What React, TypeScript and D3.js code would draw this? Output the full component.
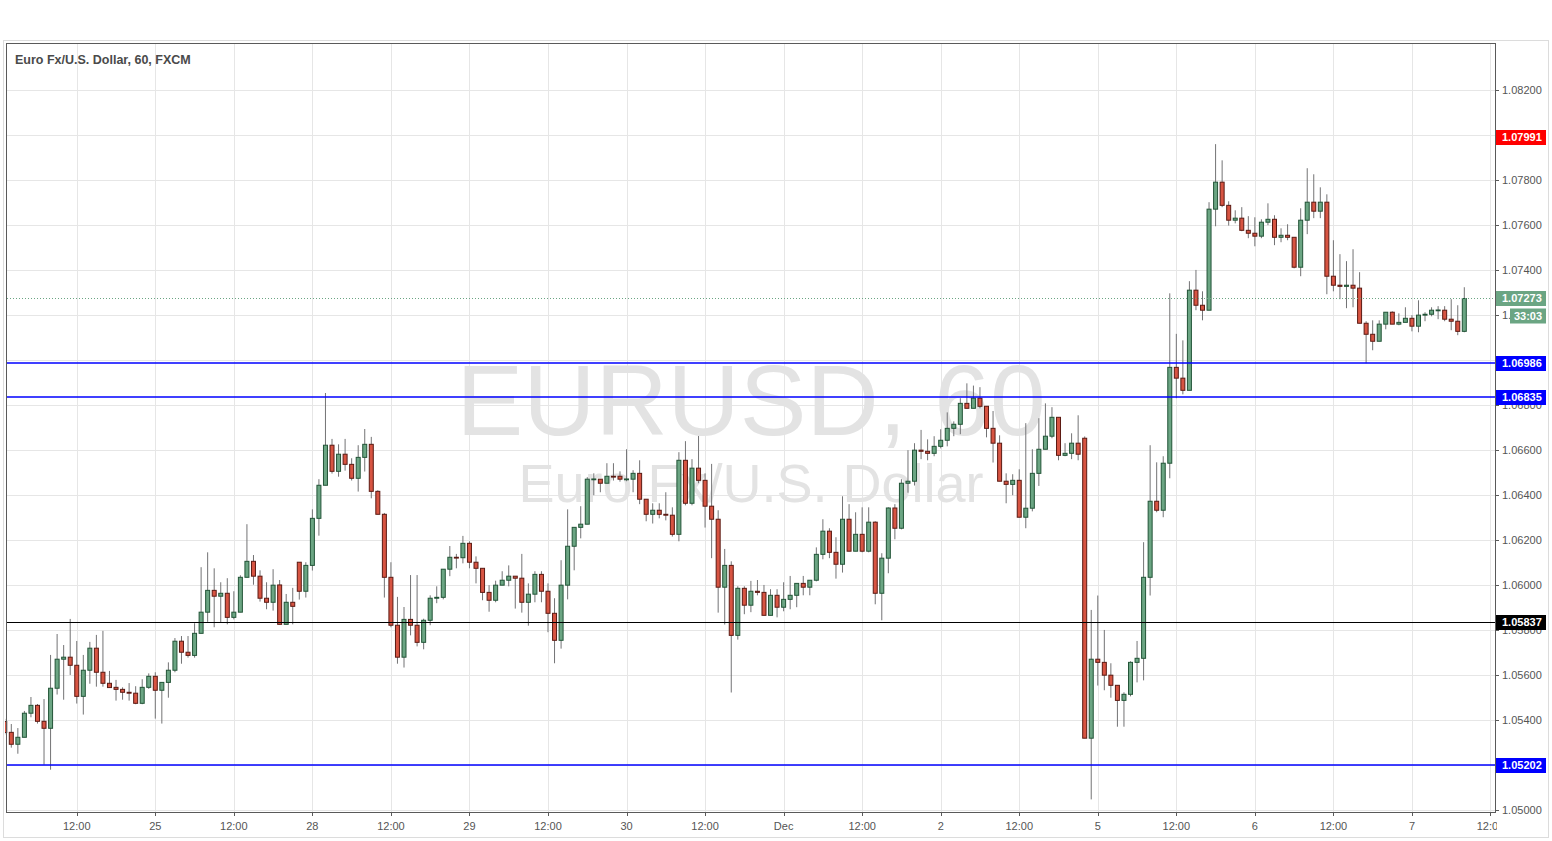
import React from 'react';
import * as d3 from 'd3';

type Bar = [number, number, number, number]; // open, high, low, close

// ---- hourly EUR/USD bars, grouped by trading day (chart time) ----
const nov24: Bar[] = [
  [1.05393,1.05405,1.05335,1.05344],[1.05345,1.05382,1.05277,1.05292],[1.05292,1.05364,1.05250,1.05323],
  [1.05323,1.05440,1.05323,1.05430],[1.05430,1.05502,1.05412,1.05465],[1.05465,1.05471,1.05384,1.05394],
  [1.05394,1.05493,1.05201,1.05363],[1.05363,1.05689,1.05179,1.05541],[1.05541,1.05782,1.05513,1.05670],
  [1.05670,1.05733,1.05490,1.05679],[1.05679,1.05849,1.05600,1.05643],[1.05643,1.05751,1.05473,1.05505],
  [1.05505,1.05689,1.05424,1.05621],[1.05621,1.05747,1.05561,1.05719],[1.05719,1.05778,1.05548,1.05612],
  [1.05612,1.05796,1.05548,1.05563],[1.05563,1.05618,1.05544,1.05544],[1.05545,1.05578,1.05486,1.05536],
  [1.05536,1.05545,1.05490,1.05523],[1.05523,1.05564,1.05486,1.05519],[1.05519,1.05550,1.05470,1.05474],
  [1.05474,1.05581,1.05470,1.05545],[1.05545,1.05607,1.05538,1.05594],
];
const nov25: Bar[] = [
  [1.05594,1.05612,1.05406,1.05532],[1.05532,1.05567,1.05384,1.05567],[1.05567,1.05656,1.05499,1.05621],
  [1.05621,1.05764,1.05612,1.05750],[1.05750,1.05773,1.05650,1.05701],[1.05701,1.05773,1.05677,1.05687],
  [1.05687,1.05830,1.05677,1.05785],[1.05785,1.06079,1.05785,1.05879],[1.05879,1.06145,1.05836,1.05976],
  [1.05976,1.06074,1.05812,1.05950],[1.05950,1.06012,1.05834,1.05963],[1.05963,1.06030,1.05825,1.05856],
  [1.05856,1.05972,1.05847,1.05879],[1.05879,1.06043,1.05879,1.06034],[1.06034,1.06270,1.06034,1.06105],
  [1.06105,1.06133,1.06001,1.06039],[1.06039,1.06065,1.05926,1.05941],[1.05941,1.06012,1.05892,1.05923],
  [1.05923,1.06070,1.05886,1.05999],[1.06000,1.06022,1.05825,1.05825],[1.05825,1.05960,1.05825,1.05923],
  [1.05923,1.05987,1.05825,1.05905],
];
const nov27: Bar[] = [
  [1.06101,1.06101,1.05935,1.05972],[1.05972,1.06101,1.05944,1.06087],
];
const nov28: Bar[] = [
  [1.06087,1.06336,1.06064,1.06296],[1.06296,1.06470,1.06219,1.06443],[1.06443,1.06853,1.06443,1.06621],
  [1.06621,1.06649,1.06495,1.06505],[1.06505,1.06625,1.06481,1.06581],[1.06581,1.06649,1.06508,1.06536],
  [1.06536,1.06563,1.06464,1.06474],[1.06474,1.06621,1.06415,1.06567],[1.06567,1.06693,1.06504,1.06625],
  [1.06625,1.06658,1.06385,1.06416],[1.06416,1.06421,1.06314,1.06314],[1.06314,1.06320,1.05944,1.06034],
  [1.06034,1.06101,1.05812,1.05821],[1.05821,1.05947,1.05650,1.05679],[1.05679,1.05902,1.05633,1.05847],
  [1.05847,1.06044,1.05776,1.05821],[1.05821,1.06044,1.05727,1.05745],[1.05745,1.05850,1.05714,1.05843],
  [1.05843,1.05954,1.05821,1.05941],[1.05941,1.05994,1.05919,1.05945],[1.05945,1.06070,1.05936,1.06070],
  [1.06070,1.06173,1.06039,1.06123],[1.06123,1.06138,1.06074,1.06121],[1.06121,1.06218,1.06096,1.06185],
];
const nov29: Bar[] = [
  [1.06185,1.06194,1.06074,1.06101],[1.06101,1.06127,1.06007,1.06074],[1.06074,1.06074,1.05932,1.05967],
  [1.05967,1.05999,1.05881,1.05932],[1.05932,1.06019,1.05923,1.05999],[1.05999,1.06061,1.05999,1.06021],
  [1.06021,1.06087,1.05994,1.06039],[1.06039,1.06039,1.05895,1.06030],[1.06030,1.06138,1.05877,1.05923],
  [1.05923,1.06007,1.05819,1.05959],[1.05959,1.06061,1.05923,1.06047],[1.06047,1.06061,1.05923,1.05972],
  [1.05972,1.06007,1.05790,1.05874],[1.05874,1.05941,1.05652,1.05754],[1.05754,1.06110,1.05717,1.05999],
  [1.05999,1.06336,1.05936,1.06172],[1.06172,1.06256,1.06065,1.06256],[1.06256,1.06350,1.06207,1.06270],
  [1.06270,1.06479,1.06270,1.06470],[1.06470,1.06496,1.06399,1.06471],[1.06470,1.06470,1.06412,1.06452],
  [1.06452,1.06541,1.06452,1.06483],[1.06483,1.06541,1.06464,1.06481],[1.06483,1.06505,1.06459,1.06470],
];
const nov30: Bar[] = [
  [1.06470,1.06603,1.06461,1.06471],[1.06470,1.06510,1.06412,1.06496],[1.06496,1.06554,1.06359,1.06381],
  [1.06381,1.06381,1.06283,1.06314],[1.06314,1.06363,1.06273,1.06332],[1.06332,1.06363,1.06296,1.06314],
  [1.06314,1.06412,1.06287,1.06310],[1.06310,1.06345,1.06215,1.06225],[1.06225,1.06590,1.06194,1.06554],
  [1.06554,1.06639,1.06354,1.06363],[1.06363,1.06559,1.06354,1.06519],[1.06519,1.06662,1.06452,1.06465],
  [1.06465,1.06496,1.06255,1.06350],[1.06350,1.06538,1.06119,1.06292],[1.06292,1.06332,1.05877,1.05990],
  [1.05990,1.06160,1.05824,1.06087],[1.06087,1.06105,1.05522,1.05776],[1.05776,1.05994,1.05757,1.05985],
  [1.05985,1.05994,1.05870,1.05910],[1.05910,1.06018,1.05879,1.05972],[1.05972,1.06022,1.05954,1.05967],
  [1.05967,1.06000,1.05865,1.05865],[1.05865,1.05981,1.05865,1.05954],[1.05954,1.05981,1.05856,1.05901],
];
const dec1: Bar[] = [
  [1.05901,1.06012,1.05883,1.05936],[1.05936,1.06040,1.05892,1.05954],[1.05954,1.06007,1.05901,1.06007],
  [1.06007,1.06040,1.05954,1.05990],[1.05990,1.06021,1.05954,1.06021],[1.06021,1.06167,1.06016,1.06136],
  [1.06136,1.06292,1.06114,1.06239],[1.06239,1.06252,1.06119,1.06145],[1.06145,1.06212,1.06028,1.06092],
  [1.06092,1.06394,1.06055,1.06292],[1.06292,1.06359,1.06150,1.06150],[1.06150,1.06323,1.06150,1.06225],
  [1.06225,1.06345,1.06145,1.06150],[1.06150,1.06345,1.06145,1.06279],[1.06279,1.06283,1.05914,1.05963],
  [1.05963,1.06141,1.05843,1.06119],[1.06119,1.06345,1.06052,1.06342],[1.06342,1.06359,1.06203,1.06252],
  [1.06252,1.06470,1.06247,1.06452],[1.06452,1.06599,1.06410,1.06461],[1.06461,1.06630,1.06442,1.06599],
  [1.06599,1.06689,1.06559,1.06594],[1.06594,1.06647,1.06554,1.06585],[1.06585,1.06661,1.06572,1.06616],
];
const dec2: Bar[] = [
  [1.06616,1.06692,1.06607,1.06643],[1.06643,1.06767,1.06616,1.06696],[1.06696,1.06727,1.06661,1.06714],
  [1.06714,1.06830,1.06670,1.06807],[1.06807,1.06896,1.06785,1.06785],[1.06785,1.06886,1.06785,1.06830],
  [1.06830,1.06879,1.06785,1.06794],[1.06794,1.06794,1.06656,1.06696],[1.06696,1.06773,1.06544,1.06630],
  [1.06630,1.06665,1.06461,1.06461],[1.06461,1.06496,1.06363,1.06447],[1.06447,1.06492,1.06399,1.06465],
  [1.06465,1.06514,1.06301,1.06301],[1.06301,1.06719,1.06252,1.06341],[1.06341,1.06603,1.06327,1.06496],
  [1.06496,1.06741,1.06440,1.06603],[1.06603,1.06807,1.06603,1.06661],[1.06661,1.06790,1.06652,1.06745],
  [1.06745,1.06745,1.06554,1.06576],[1.06576,1.06630,1.06572,1.06585],[1.06585,1.06674,1.06559,1.06630],
  [1.06630,1.06754,1.06554,1.06581],
];
const dec4: Bar[] = [
  [1.06652,1.06660,1.05319,1.05319],[1.05319,1.05889,1.05047,1.05670],
];
const dec5: Bar[] = [
  [1.05670,1.05953,1.05553,1.05656],[1.05656,1.05800,1.05532,1.05599],[1.05599,1.05652,1.05499,1.05554],
  [1.05554,1.05554,1.05370,1.05487],[1.05487,1.05523,1.05370,1.05514],[1.05514,1.05661,1.05505,1.05656],
  [1.05656,1.05751,1.05567,1.05674],[1.05674,1.06190,1.05576,1.06034],[1.06034,1.06621,1.05953,1.06372],
  [1.06372,1.06545,1.06323,1.06332],[1.06332,1.06572,1.06301,1.06541],[1.06541,1.07296,1.06474,1.06967],
  [1.06967,1.07116,1.06830,1.06919],[1.06919,1.07087,1.06847,1.06865],[1.06865,1.07350,1.06865,1.07310],
  [1.07310,1.07400,1.07221,1.07243],[1.07243,1.07305,1.07176,1.07221],[1.07221,1.07701,1.07221,1.07670],
  [1.07670,1.07959,1.07594,1.07790],[1.07790,1.07887,1.07679,1.07687],[1.07687,1.07705,1.07597,1.07621],
  [1.07621,1.07665,1.07607,1.07630],[1.07630,1.07679,1.07572,1.07576],[1.07576,1.07639,1.07541,1.07563],
];
const dec6: Bar[] = [
  [1.07563,1.07634,1.07505,1.07550],[1.07550,1.07625,1.07541,1.07612],[1.07612,1.07696,1.07599,1.07625],
  [1.07625,1.07643,1.07510,1.07545],[1.07545,1.07585,1.07523,1.07554],[1.07554,1.07603,1.07532,1.07545],
  [1.07545,1.07545,1.07407,1.07412],[1.07412,1.07674,1.07372,1.07621],[1.07621,1.07852,1.07559,1.07701],
  [1.07701,1.07825,1.07630,1.07661],[1.07661,1.07767,1.07630,1.07701],[1.07701,1.07736,1.07292,1.07372],
  [1.07372,1.07532,1.07305,1.07332],[1.07332,1.07470,1.07270,1.07327],[1.07327,1.07439,1.07230,1.07332],
  [1.07332,1.07492,1.07234,1.07319],[1.07319,1.07390,1.07163,1.07163],[1.07163,1.07172,1.06985,1.07114],
  [1.07114,1.07176,1.07043,1.07083],[1.07083,1.07176,1.07083,1.07159],[1.07159,1.07212,1.07136,1.07212],
  [1.07212,1.07216,1.07159,1.07159],[1.07159,1.07207,1.07154,1.07167],[1.07167,1.07234,1.07167,1.07185],
];
const dec7: Bar[] = [
  [1.07185,1.07199,1.07127,1.07150],[1.07150,1.07265,1.07123,1.07199],[1.07199,1.07212,1.07172,1.07203],
  [1.07203,1.07234,1.07194,1.07221],[1.07221,1.07239,1.07181,1.07222],[1.07221,1.07239,1.07172,1.07181],
  [1.07181,1.07270,1.07132,1.07172],[1.07172,1.07243,1.07110,1.07127],[1.07127,1.07323,1.07123,1.07273],
];

// day → [year, month(0-based), day, first hour]
const dayStarts: [number, number, number, number][] = [
  [2016, 10, 24, 1], [2016, 10, 25, 0], [2016, 10, 27, 22], [2016, 10, 28, 0], [2016, 10, 29, 0],
  [2016, 10, 30, 0], [2016, 11, 1, 0], [2016, 11, 2, 0], [2016, 11, 4, 22], [2016, 11, 5, 0],
  [2016, 11, 6, 0], [2016, 11, 7, 0],
];
const dayBars: Bar[][] = [nov24, nov25, nov27, nov28, nov29, nov30, dec1, dec2, dec4, dec5, dec6, dec7];

// horizontal levels drawn on the chart
const blueLevels = [1.06986, 1.06835, 1.05202];
const blackLevels = [1.05837];
const markedLevel = 1.07991;
const countdown = '33:03';
const title = 'Euro Fx/U.S. Dollar, 60, FXCM';
const watermarkSymbol = 'EURUSD, 60';
const watermarkName = 'Euro Fx/U.S. Dollar';
const priceTicks = d3.range(0, 17).map((k) => 1.05 + k * 0.002);
const monthShort = ['Jan', 'Feb', 'Mar', 'Apr', 'May', 'Jun', 'Jul', 'Aug', 'Sep', 'Oct', 'Nov', 'Dec'];

const UP_FILL = '#6ba583';
const UP_LINE = '#225437';
const DN_FILL = '#d75442';
const DN_LINE = '#5b1a13';
const WICK = '#737375';
const GRID = '#e6e6e6';
const BLUE = '#0000ff';
const FONT = '"Liberation Sans", Arial, sans-serif';

type Candle = { t: Date; o: number; h: number; l: number; c: number };

const candles: Candle[] = [];
dayBars.forEach((bars, d) => {
  const [yy, mm, dd, hh] = dayStarts[d];
  bars.forEach((b, k) => {
    candles.push({ t: new Date(Date.UTC(yy, mm, dd, hh + k)), o: b[0], h: b[1], l: b[2], c: b[3] });
  });
});

export default function App() {
  const W = 1552;
  const H = 841;
  const plot = { left: 7, right: 1495, top: 44, bottom: 812 };

  const n = candles.length;
  const x = d3.scaleLinear().domain([0, n - 1]).range([4.76, 1464.3]);
  const y = d3.scaleLinear().domain([1.04991, 1.08404]).range([plot.bottom, plot.top]);
  const py = (p: number) => Math.round(y(p)) + 0.5;

  // time labels (include future hours to the right of the last bar)
  const lastT = candles[n - 1].t.getTime();
  const times: Date[] = candles.map((c) => c.t);
  for (let k = 1; k <= 6; k++) times.push(new Date(lastT + k * 3600e3));
  const timeTicks: { i: number; label: string }[] = [];
  times.forEach((t, i) => {
    const hr = t.getUTCHours();
    if (hr === 0) {
      const d = t.getUTCDate();
      timeTicks.push({ i, label: d === 1 ? monthShort[t.getUTCMonth()] : String(d) });
    } else if (hr === 12) {
      timeTicks.push({ i, label: '12:00' });
    }
  });

  const last = candles[n - 1];
  const bodyW = 4;

  const labelBox = (price: number, bg: string, key: string) => {
    const cy = py(price);
    return (
      <g key={key}>
        <rect x={1496} y={cy - 7.5} width={50} height={15} fill={bg} />
        <text x={1502} y={cy} dy="0.35em" fontSize={11} fontWeight="bold" fill="#fff" fontFamily={FONT}>
          {price.toFixed(5)}
        </text>
      </g>
    );
  };

  return (
    <div style={{ position: 'absolute', left: 0, top: 0, width: W, height: H, background: '#fff' }}>
      <svg width={W} height={H} style={{ display: 'block' }}>
        <defs>
          <clipPath id="plotClip">
            <rect x={5} y={plot.top} width={plot.right - 5} height={plot.bottom - plot.top} />
          </clipPath>
          <clipPath id="timeClip">
            <rect x={0} y={plot.bottom} width={1497} height={30} />
          </clipPath>
        </defs>
        <rect x={0} y={0} width={W} height={H} fill="#fff" />
        {/* outer frame */}
        <rect x={3.5} y={40.5} width={1545} height={797} fill="none" stroke="#dcdcdc" />

        {/* grid */}
        <g clipPath="url(#plotClip)" shapeRendering="crispEdges">
          {priceTicks.map((p) => (
            <line key={'hg' + p} x1={plot.left} x2={plot.right} y1={py(p)} y2={py(p)} stroke={GRID} />
          ))}
          {timeTicks.map((tk) => (
            <line key={'vg' + tk.i} x1={Math.round(x(tk.i)) + 0.5} x2={Math.round(x(tk.i)) + 0.5} y1={plot.top} y2={plot.bottom} stroke={GRID} />
          ))}
        </g>

        {/* watermark */}
        <text x={(plot.left + plot.right) / 2} y={435} textAnchor="middle" fontSize={100} fill="#e3e3e3" fontFamily={FONT}>
          {watermarkSymbol}
        </text>
        <text x={(plot.left + plot.right) / 2} y={502} textAnchor="middle" fontSize={54} fill="#e3e3e3" fontFamily={FONT}>
          {watermarkName}
        </text>

        {/* candles */}
        <g clipPath="url(#plotClip)">
          {candles.map((c, i) => {
            const cx = x(i);
            const up = c.c >= c.o;
            const top = y(Math.max(c.o, c.c));
            const bot = y(Math.min(c.o, c.c));
            return (
              <g key={'c' + i}>
                <line x1={cx} x2={cx} y1={y(c.h)} y2={y(c.l)} stroke={WICK} strokeWidth={1} />
                <rect
                  x={cx - bodyW / 2}
                  y={top}
                  width={bodyW}
                  height={Math.max(bot - top, 0.8)}
                  fill={up ? UP_FILL : DN_FILL}
                  stroke={up ? UP_LINE : DN_LINE}
                  strokeWidth={1}
                />
              </g>
            );
          })}
        </g>

        {/* horizontal levels */}
        <g clipPath="url(#plotClip)">
          {blueLevels.map((p) => (
            <line key={'bl' + p} x1={plot.left} x2={plot.right} y1={Math.round(y(p))} y2={Math.round(y(p))} stroke={BLUE} strokeWidth={1.5} />
          ))}
          {blackLevels.map((p) => (
            <line key={'kl' + p} x1={plot.left} x2={plot.right} y1={py(p)} y2={py(p)} stroke="#000" strokeWidth={1} shapeRendering="crispEdges" />
          ))}
          <line x1={plot.left} x2={plot.right} y1={py(last.c)} y2={py(last.c)} stroke={UP_FILL} strokeDasharray="1,2" shapeRendering="crispEdges" />
        </g>

        {/* plot border */}
        <rect x={plot.left - 0.5} y={plot.top - 0.5} width={plot.right - plot.left + 1} height={plot.bottom - plot.top + 1} fill="none" stroke="#5a5a5a" shapeRendering="crispEdges" />

        {/* title */}
        <text x={15} y={64} fontSize={12.5} fontWeight="bold" fill="#4a4a4a" fontFamily={FONT}>
          {title}
        </text>

        {/* price axis */}
        <g>
          {priceTicks.map((p) => (
            <g key={'pt' + p}>
              <line x1={plot.right} x2={plot.right + 4} y1={py(p)} y2={py(p)} stroke="#5a5a5a" />
              <text x={1502} y={py(p)} dy="0.35em" fontSize={11} fill="#555" fontFamily={FONT}>
                {p.toFixed(5)}
              </text>
            </g>
          ))}
        </g>

        {/* time axis */}
        <g clipPath="url(#timeClip)">
          {timeTicks.map((tk) => (
            <g key={'tt' + tk.i}>
              <line x1={Math.round(x(tk.i)) + 0.5} x2={Math.round(x(tk.i)) + 0.5} y1={plot.bottom} y2={plot.bottom + 4} stroke="#5a5a5a" />
              <text x={x(tk.i)} y={826} dy="0.35em" textAnchor="middle" fontSize={11} fill="#555" fontFamily={FONT}>
                {tk.label}
              </text>
            </g>
          ))}
        </g>

        {/* price labels on axis */}
        {labelBox(markedLevel, '#ff0000', 'mark')}
        {labelBox(last.c, UP_FILL, 'lastc')}
        <g>
          <rect x={1510} y={py(last.c) + 10} width={36} height={15} fill={UP_FILL} />
          <text x={1528} y={py(last.c) + 17.5} dy="0.35em" textAnchor="middle" fontSize={11} fontWeight="bold" fill="#fff" fontFamily={FONT}>
            {countdown}
          </text>
        </g>
        {blueLevels.map((p) => labelBox(p, BLUE, 'bb' + p))}
        {blackLevels.map((p) => labelBox(p, '#000000', 'kb' + p))}
      </svg>
    </div>
  );
}
